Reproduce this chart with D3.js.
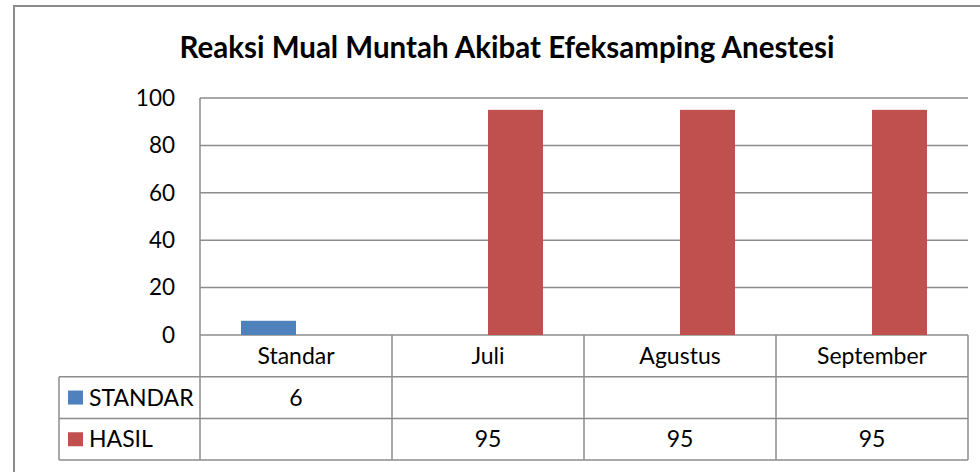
<!DOCTYPE html>
<html>
<head>
<meta charset="utf-8">
<script src="https://cdn.jsdelivr.net/npm/d3@7"></script>
<style>
  body { margin: 0; background: #fff; }
  svg { display: block; font-family: Lato, "Open Sans", sans-serif; }
</style>
</head>
<body>
<div id="chart"></div>
<script>
const categories = ['Standar', 'Juli', 'Agustus', 'September'];
const seriesNames = ['STANDAR', 'HASIL'];
const standarValues = [6, null, null, null];
const hasilValues = [null, 95, 95, 95];
const yTicks = [0, 20, 40, 60, 80, 100];
const colors = ['#4F81BD', '#C0504D'];

const width = 980, height = 472;
const plot = { left: 200, right: 968, top: 98, bottom: 335 };
const rowH = 41.7;
const tableLeft = 59;
const gridColor = '#8c8c8c';
const labelSize = 23;

const svg = d3.select('#chart').append('svg')
    .attr('width', width)
    .attr('height', height);

// outer chart border (runs off the right and bottom edges)
svg.append('rect')
    .attr('x', 14).attr('y', 6)
    .attr('width', 1000).attr('height', 500)
    .attr('fill', 'white')
    .attr('stroke', gridColor)
    .attr('stroke-width', 2);

svg.append('text')
    .attr('x', 507).attr('y', 58)
    .attr('text-anchor', 'middle')
    .attr('font-size', 29.5)
    .attr('font-weight', 'bold')
    .attr('fill', '#000')
    .text('Reaksi Mual Muntah Akibat Efeksamping Anestesi');

const x = d3.scaleBand()
    .domain(categories)
    .range([plot.left, plot.right]);

const y = d3.scaleLinear()
    .domain([0, 100])
    .range([plot.bottom, plot.top]);

// gridlines
svg.append('g')
    .selectAll('line')
    .data(yTicks)
    .join('line')
    .attr('x1', plot.left).attr('x2', plot.right)
    .attr('y1', d => y(d)).attr('y2', d => y(d))
    .attr('stroke', gridColor)
    .attr('stroke-width', 1.5);

// y axis labels
const yAxis = d3.axisLeft(y).tickValues(yTicks).tickSize(0).tickPadding(25);
const yg = svg.append('g')
    .attr('transform', `translate(${plot.left},0)`)
    .call(yAxis);
yg.select('.domain').remove();
yg.selectAll('text')
    .attr('font-size', 22.5)
    .attr('font-family', 'Lato, sans-serif')
    .attr('fill', '#000');

// bars
const barW = 55;
const values = [standarValues, hasilValues];
values.forEach((vals, si) => {
    svg.append('g')
        .selectAll('rect')
        .data(categories.map((c, i) => ({ c, v: vals[i] })).filter(d => d.v != null))
        .join('rect')
        .attr('x', d => x(d.c) + x.bandwidth() / 2 - barW + si * barW)
        .attr('y', d => y(d.v))
        .attr('width', barW)
        .attr('height', d => y(0) - y(d.v))
        .attr('fill', colors[si]);
});

// data table
const tableBottom = plot.bottom + rowH * 3;
const tbl = svg.append('g')
    .attr('stroke', gridColor)
    .attr('stroke-width', 1.5)
    .attr('fill', 'none');

// vertical lines
tbl.append('line')
    .attr('x1', plot.left).attr('x2', plot.left)
    .attr('y1', plot.top).attr('y2', tableBottom);
categories.forEach(c => {
    const xx = x(c) + x.bandwidth();
    tbl.append('line')
        .attr('x1', xx).attr('x2', xx)
        .attr('y1', plot.bottom).attr('y2', tableBottom);
});
tbl.append('line')
    .attr('x1', tableLeft).attr('x2', tableLeft)
    .attr('y1', plot.bottom + rowH).attr('y2', tableBottom);
// horizontal lines
[1, 2, 3].forEach(r => {
    tbl.append('line')
        .attr('x1', tableLeft).attr('x2', plot.right)
        .attr('y1', plot.bottom + rowH * r).attr('y2', plot.bottom + rowH * r);
});

// category header labels
svg.append('g')
    .selectAll('text')
    .data(categories)
    .join('text')
    .attr('x', d => x(d) + x.bandwidth() / 2)
    .attr('y', plot.bottom + rowH / 2)
    .attr('dy', '0.35em')
    .attr('text-anchor', 'middle')
    .attr('font-size', labelSize)
    .text(d => d);

// series rows
seriesNames.forEach((name, si) => {
    const rowY = plot.bottom + rowH * (si + 1);
    svg.append('rect')
        .attr('x', 68).attr('y', rowY + rowH / 2 - 7)
        .attr('width', 15).attr('height', 14)
        .attr('fill', colors[si]);
    svg.append('text')
        .attr('x', 89).attr('y', rowY + rowH / 2)
        .attr('dy', '0.35em')
        .attr('font-size', labelSize)
        .text(name);
    svg.append('g')
        .selectAll('text')
        .data(categories.map((c, i) => ({ c, v: values[si][i] })).filter(d => d.v != null))
        .join('text')
        .attr('x', d => x(d.c) + x.bandwidth() / 2)
        .attr('y', rowY + rowH / 2)
        .attr('dy', '0.35em')
        .attr('text-anchor', 'middle')
        .attr('font-size', labelSize)
        .text(d => d.v);
});
</script>
</body>
</html>
